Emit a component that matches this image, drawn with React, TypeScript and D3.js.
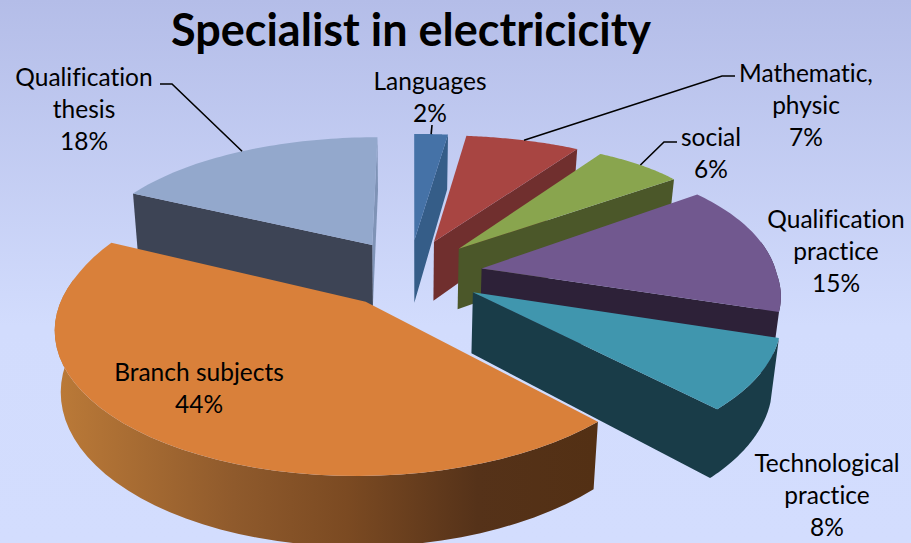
import React from "react";
import * as d3 from "d3";

// Course-hour shares, clockwise from twelve o'clock
const subjects = ["Languages", "Mathematic, physic", "social", "Qualification practice", "Technological practice", "Branch subjects", "Qualification thesis"];
const shares = [2, 7, 6, 15, 8, 44, 18];
const topColors = ["#4572a7", "#a84542", "#89a54e", "#71588f", "#4096ae", "#d9803a", "#93a8cc"];
const wallColors = ["#355d88", "#702f2e", "#4b5729", "#2d2138", "#193c48", "url(#branchWall)", "#3d4455"];
const wallDepths = [65, 61, 62, 60, 60, 58, 63];
const labelLines = [
  ["Languages", "2%"],
  ["Mathematic,", "physic", "7%"],
  ["social", "6%"],
  ["Qualification", "practice", "15%"],
  ["Technological", "practice", "8%"],
  ["Branch subjects", "44%"],
  ["Qualification", "thesis", "18%"],
];
const labelCentres: [number, number][] = [
  [430, 90], [806, 82], [711, 146], [836, 228], [827, 472], [199, 381], [84, 86],
];
const leaderElbows: ([number, number][] | null)[] = [
  [[432, 125]],
  [[735, 76], [722, 76]],
  [[677, 142], [664, 142]],
  null,
  null,
  null,
  [[160, 84], [172, 84]],
];

// Perspective of the tilted pie: the far half narrows differently on each side
const W = 911, H = 543;
const cx = 410, cy = 274;
const scaleX = 295, scaleYFar = 146, scaleYNear = 134;
const explode = 0.247;

type Pt = [number, number];
const project = (X: number, Y: number, wall: number | null): Pt => {
  const wx = Y < 0 && X > 0
    ? Math.max(0.915, 1 / (1 - 0.13 * Y))
    : 1 / (1 - 0.165 * Y);
  const ky = Y < 0 ? 0.24 : 0.17;
  const x = cx + scaleX * X * wx;
  const y = cy + ((Y < 0 ? scaleYFar : scaleYNear) * Y) / (1 - ky * Y);
  const baseShrink = X < 0 ? 0.983 : 0.977;
  return wall === null
    ? [x, y]
    : [cx + (x - cx) * baseShrink, y + wall / (1 - 0.15 * Y)];
};

const arcs = d3.pie<number>().sort(null)(shares);
const toPath = d3.line<Pt>();
const closed = (pts: Pt[]) => toPath(pts)! + "Z";

const slicePoint = (mid: number, theta: number, r: number, wall: number | null) =>
  project(explode * Math.sin(mid) + r * Math.sin(theta), -explode * Math.cos(mid) - r * Math.cos(theta), wall);

export default function App() {
  const slices = arcs.map((a, i) => {
    const mid = (a.startAngle + a.endAngle) / 2;
    const depth = wallDepths[i];
    const steps = d3.range(0, 49).map((s) => a.startAngle + ((a.endAngle - a.startAngle) * s) / 48);
    const rimTop = steps.map((t) => slicePoint(mid, t, 1, null));
    const apexTop = slicePoint(mid, 0, 0, null);
    const apexBase = slicePoint(mid, 0, 0, depth);
    const wallAt = (t: number): Pt[] => [apexTop, slicePoint(mid, t, 1, null), slicePoint(mid, t, 1, depth), apexBase];

    // Only faces turned towards the viewer are painted
    const area = (pts: Pt[]) => -d3.polygonArea(pts);
    const startWall = wallAt(a.startAngle);
    const endWall = wallAt(a.endAngle);
    const nearSteps = steps.filter((t) => Math.cos(t) < 0.2);
    const outer = nearSteps.length > 1
      ? closed([
          ...nearSteps.map((t) => slicePoint(mid, t, 1, null)),
          ...[...nearSteps].reverse().map((t) => slicePoint(mid, t, 1, depth)),
        ])
      : "";
    return {
      i,
      top: closed([apexTop, ...rimTop]),
      outer,
      startWall: area(startWall) < 0 ? closed(startWall) : "",
      endWall: area(endWall) > 0 ? closed(endWall) : "",
      anchor: slicePoint(mid, mid, 1, null),
    };
  });
  // Painter's order: thesis at the back, branch subjects in front
  const order = [6, 0, 1, 2, 3, 4, 5];

  return (
    <svg width={W} height={H} style={{ position: "absolute", left: 0, top: 0, fontVariantLigatures: "none" }} fontFamily="Lato, 'Open Sans', sans-serif">
      <defs>
        <linearGradient id="sky" x1="0" y1="0" x2="0" y2="1">
          <stop offset="0" stopColor="#b4bde8" />
          <stop offset="0.6" stopColor="#d2dcfd" />
          <stop offset="1" stopColor="#d3ddfe" />
        </linearGradient>
        <linearGradient id="branchWall" gradientUnits="userSpaceOnUse" x1="56" y1="0" x2="596" y2="0">
          <stop offset="0" stopColor="#bb7a38" />
          <stop offset="0.33" stopColor="#8f5a2c" />
          <stop offset="0.54" stopColor="#7b4a22" />
          <stop offset="0.78" stopColor="#553219" />
          <stop offset="1" stopColor="#533014" />
        </linearGradient>
      </defs>
      <rect width={W} height={H} fill="url(#sky)" />
      {order.map((k) => {
        const s = slices[k];
        return (
          <g key={k}>
            {k === 6 ? (
              <>
                <path d={s.endWall} fill="#7f93b6" />
                <path d={s.startWall} fill={wallColors[k]} />
              </>
            ) : (
              <path d={s.outer + s.endWall + s.startWall} fill={wallColors[k]} />
            )}
            <path d={s.top} fill={topColors[k]} />
          </g>
        );
      })}
      {slices.map((s) => {
        const elbows = leaderElbows[s.i];
        if (!elbows) return null;
        return <path key={s.i} d={toPath([...elbows, s.anchor])!} fill="none" stroke="#000" strokeWidth={1.6} />;
      })}
      <text x={411} y={46} textAnchor="middle" fontSize={45} fontWeight={700} fill="#000">Specialist in electricicity</text>
      {labelLines.map((lines, i) => (
        <text key={subjects[i]} textAnchor="middle" fontSize={24.5} fill="#000">
          {lines.map((line, j) => (
            <tspan key={j} x={labelCentres[i][0]} y={labelCentres[i][1] + j * 32}>{line}</tspan>
          ))}
        </text>
      ))}
    </svg>
  );
}
